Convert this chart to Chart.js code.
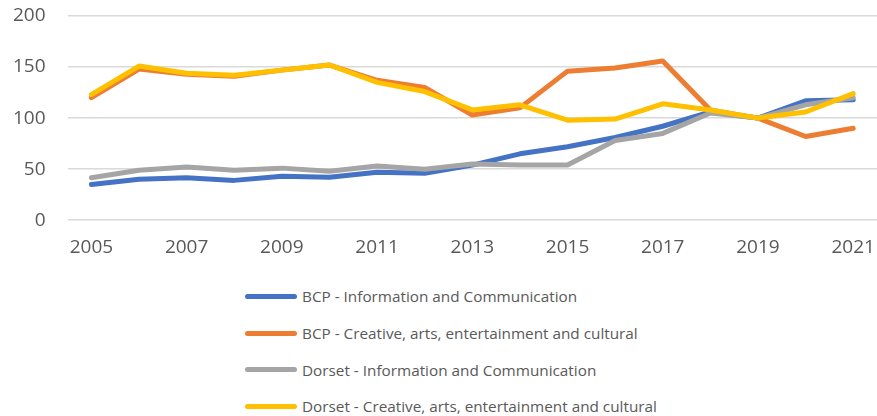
<!DOCTYPE html>
<html>
<head>
<meta charset="utf-8">
<title>Employment index</title>
<script src="https://cdn.jsdelivr.net/npm/chart.js@4.4.0/dist/chart.umd.min.js"></script>
<style>
  body { margin: 0; background: #fff; font-family: "Open Sans", sans-serif; }
  #wrap { position: relative; width: 877px; height: 416px; }
  #chartBox { position: absolute; left: 0; top: 0; width: 877px; height: 265px; }
  #legend { position: absolute; left: 245px; top: 278px; margin: 0; padding: 0; list-style: none; }
  #legend li { display: flex; align-items: center; height: 36.7px; color: #595959; font-size: 15.3px; }
  #legend .swatch { display: inline-block; width: 52px; height: 5px; border-radius: 3px; margin-right: 5px; }
</style>
</head>
<body>
<div id="wrap">
  <div id="chartBox"><canvas id="employChart"></canvas></div>
  <ul id="legend"></ul>
</div>
<script>
// Index of employment, 2019 = 100
const years = ['2005', '2006', '2007', '2008', '2009', '2010', '2011', '2012', '2013',
  '2014', '2015', '2016', '2017', '2018', '2019', '2020', '2021'];
const bcpInfo = [35, 40, 41.5, 39, 43, 42, 47, 46, 54, 65, 72, 81, 92, 106, 100, 117, 118];
const bcpCreative = [120, 148, 143, 141, 147, 152, 137, 130, 103, 110, 146, 149, 156, 108, 100, 82, 90];
const dorsetInfo = [41.5, 49, 52, 49, 51, 48, 53, 50, 55, 54, 54, 78, 85, 105, 100, 113, 120];
const dorsetCreative = [123, 151, 144, 142, 147, 152, 135, 126, 108, 113, 98, 99, 114, 108, 100, 106, 124];
const yTicks = [0, 50, 100, 150, 200];

const seriesNames = [
  'BCP - Information and Communication',
  'BCP - Creative, arts, entertainment and cultural',
  'Dorset - Information and Communication',
  'Dorset - Creative, arts, entertainment and cultural'
];
const seriesData = [bcpInfo, bcpCreative, dorsetInfo, dorsetCreative];
const seriesColors = ['#4472C4', '#ED7D31', '#A5A5A5', '#FFC000'];

// builds the list under the canvas from the chart's own datasets
const htmlLegend = {
  id: 'htmlLegend',
  afterUpdate(chart) {
    const ul = document.getElementById('legend');
    ul.innerHTML = '';
    chart.data.datasets.forEach(ds => {
      const li = document.createElement('li');
      const sw = document.createElement('span');
      sw.className = 'swatch';
      sw.style.background = ds.borderColor;
      li.appendChild(sw);
      li.appendChild(document.createTextNode(ds.label));
      ul.appendChild(li);
    });
  }
};

// keep end labels from pushing the plot area inwards, and only
// reserve the tick padding once (fit() counts it twice)
const tightFit = axis => {
  axis.paddingLeft = 0;
  axis.paddingRight = 0;
  axis.paddingTop = 0;
  axis.paddingBottom = 0;
  const pad = axis.options.ticks.padding;
  if (axis.isHorizontal()) axis.height -= pad;
  else axis.width -= pad;
};

const ctx = document.getElementById('employChart').getContext('2d');
const employChart = new Chart(ctx, {
  type: 'line',
  data: {
    labels: years,
    datasets: seriesData.map((d, i) => ({
      label: seriesNames[i],
      data: d,
      borderColor: seriesColors[i],
      backgroundColor: seriesColors[i],
      borderWidth: 5,
      borderCapStyle: 'round',
      borderJoinStyle: 'round',
      pointRadius: 0,
      tension: 0,
      fill: false,
      order: seriesData.length - i
    }))
  },
  options: {
    responsive: true,
    maintainAspectRatio: false,
    animation: false,
    layout: { padding: { left: 13, top: 16, right: 0, bottom: 6 } },
    plugins: {
      legend: { display: false },
      tooltip: { enabled: false }
    },
    scales: {
      x: {
        offset: true,
        afterFit: tightFit,
        grid: { display: false, drawTicks: false },
        border: { display: false },
        ticks: {
          autoSkip: false,
          maxRotation: 0,
          padding: 16,
          color: '#595959',
          font: { family: 'Open Sans', size: 19 },
          callback: function (val, i) {
            return i % 2 === 0 ? this.getLabelForValue(val) : '';
          }
        }
      },
      y: {
        min: 0,
        max: 200,
        afterFit: tightFit,
        afterBuildTicks: axis => { axis.ticks = yTicks.map(v => ({ value: v })); },
        grid: { color: '#d9d9d9', lineWidth: 1.5, drawTicks: false },
        border: { display: false },
        ticks: {
          padding: 22,
          color: '#595959',
          font: { family: 'Open Sans', size: 19 }
        }
      }
    }
  },
  plugins: [htmlLegend]
});
</script>
</body>
</html>
